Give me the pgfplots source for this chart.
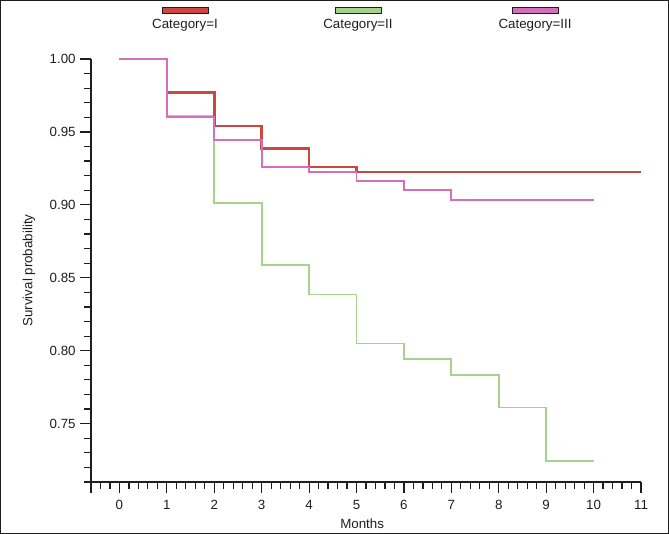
\documentclass[border=0pt]{standalone}
\usepackage{pgfplots}
\pgfplotsset{compat=1.18}
\usepackage{fontspec}
\setmainfont{Liberation Sans}
\definecolor{cI}{RGB}{204,70,66}
\definecolor{cII}{RGB}{166,210,140}
\definecolor{cIII}{RGB}{210,112,190}
\definecolor{axc}{RGB}{30,30,30}
\begin{document}
\fontsize{10}{12}\selectfont
\begin{tikzpicture}[x=0.75pt,y=0.75pt]
\draw[line width=1.1pt,draw=axc] (0.75,0.75) rectangle (668.25,533.25);
% legend
\draw[fill=cI,draw=axc,line width=0.5pt] (162,521) rectangle (208,527);
\node[text=axc] at (185,509) {Category=I};
\draw[fill=cII,draw=axc,line width=0.5pt] (335,521) rectangle (381,527);
\node[text=axc] at (358,509) {Category=II};
\draw[fill=cIII,draw=axc,line width=0.5pt] (512,521) rectangle (558,527);
\node[text=axc] at (535,509) {Category=III};
\begin{axis}[
  at={(68.25pt,39pt)}, anchor=south west,
  scale only axis, width=412.5pt, height=317.25pt,
  xmin=-0.6, xmax=11, ymin=0.71, ymax=1.0,
  axis x line*=bottom, axis y line*=left,
  axis line style={draw=axc,line width=0.9pt},
  every tick/.style={draw=axc,line width=0.9pt},
  tick align=outside,
  major tick length=8pt, minor tick length=5pt,
  xtick={0,1,...,11}, extra x ticks={-0.6}, extra x tick labels={},
  minor xtick={-0.4,-0.2,0.2,0.4,0.6,0.8,1.2,1.4,1.6,1.8,2.2,2.4,2.6,2.8,3.2,3.4,3.6,3.8,4.2,4.4,4.6,4.8,5.2,5.4,5.6,5.8,6.2,6.4,6.6,6.8,7.2,7.4,7.6,7.8,8.2,8.4,8.6,8.8,9.2,9.4,9.6,9.8,10.2,10.4,10.6,10.8},
  ytick={0.75,0.80,0.85,0.90,0.95,1.00},
  minor ytick={0.71,0.72,0.73,0.74,0.76,0.77,0.78,0.79,0.81,0.82,0.83,0.84,0.86,0.87,0.88,0.89,0.91,0.92,0.93,0.94,0.96,0.97,0.98,0.99},
  yticklabel style={/pgf/number format/fixed,/pgf/number format/fixed zerofill,/pgf/number format/precision=2},
  xticklabel style={yshift=-2pt},
  /pgf/number format/assume math mode=true,
  ticklabel style={font=\fontsize{10}{12}\selectfont, text=axc},
  xlabel={Months}, ylabel={Survival probability},
  xlabel style={at={(ticklabel cs:0.493)}, text=axc, yshift=15.5pt},
  ylabel style={text=axc, yshift=4pt},
  clip=false,
]
\addplot[const plot, color=cII, line width=1.3pt] coordinates {
(0,1.0) (1,0.961) (2,0.9015) (3,0.859) (4,0.8385) (5,0.805) (6,0.7945) (7,0.7835) (8,0.761) (9,0.7245) (10,0.7245)};
\addplot[const plot, color=cI, line width=2pt] coordinates {
(0,1.0) (1,0.977) (2,0.954) (3,0.9385) (4,0.926) (5,0.9225) (11,0.9225)};
\addplot[const plot, color=cIII, line width=1.3pt] coordinates {
(0,1.0) (1,0.960) (2,0.9445) (3,0.926) (4,0.9225) (5,0.9165) (6,0.910) (7,0.9035) (10,0.9035)};
\end{axis}
\end{tikzpicture}
\end{document}
